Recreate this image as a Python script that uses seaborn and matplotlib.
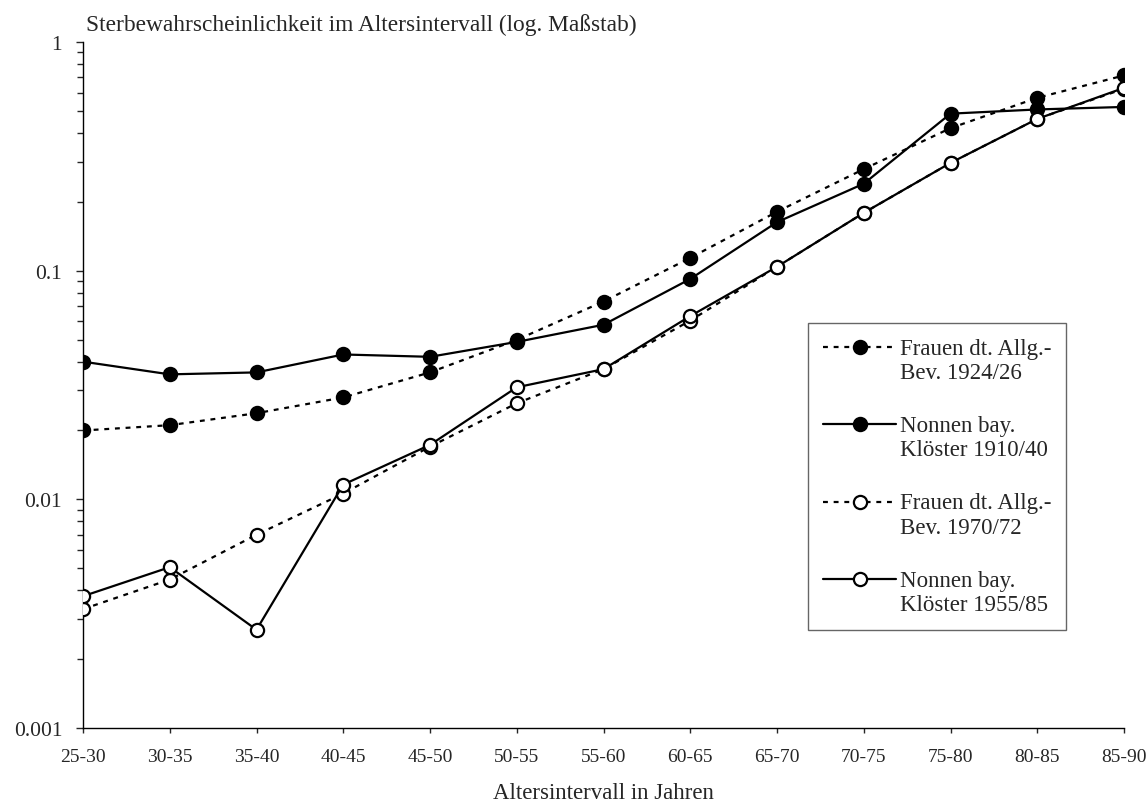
import numpy as np
import pandas as pd
import matplotlib
matplotlib.use("Agg")
import matplotlib.pyplot as plt
import seaborn as sns
from matplotlib.ticker import FixedLocator, LogLocator, NullFormatter, FixedFormatter
from matplotlib.legend_handler import HandlerLine2D

age_groups = ["25-30", "30-35", "35-40", "40-45", "45-50", "50-55", "55-60",
              "60-65", "65-70", "70-75", "75-80", "80-85", "85-90"]

frauen_1924 = [0.020, 0.0211, 0.0238, 0.0279, 0.0359, 0.0498, 0.0733,
               0.1137, 0.181, 0.278, 0.420, 0.570, 0.714]
nonnen_1910 = [0.040, 0.0352, 0.0359, 0.043, 0.042, 0.0488, 0.058,
               0.092, 0.163, 0.240, 0.486, 0.507, 0.520]
frauen_1970 = [0.00331, 0.00446, 0.0070, 0.0106, 0.0170, 0.0263, 0.0371,
               0.0605, 0.104, 0.179, 0.296, 0.461, 0.625]
nonnen_1955 = [0.00377, 0.00505, 0.00269, 0.0116, 0.0173, 0.0309, 0.0371,
               0.0633, 0.104, 0.179, 0.296, 0.461, 0.630]

series_labels = ["Frauen dt. Allg.-\nBev. 1924/26",
                 "Nonnen bay.\nKlöster 1910/40",
                 "Frauen dt. Allg.-\nBev. 1970/72",
                 "Nonnen bay.\nKlöster 1955/85"]

y_ticks = [0.001, 0.01, 0.1, 1]
y_tick_labels = ["0.001", "0.01", "0.1", "1"]

sns.set_theme(style="white")
plt.rcParams["font.family"] = ["Liberation Serif", "DejaVu Serif"]


class FirstLineHandler(HandlerLine2D):
    """Aligns the legend handle with the first line of a two-line label."""
    def create_artists(self, legend, orig_handle, xdescent, ydescent,
                       width, height, fontsize, trans):
        artists = super().create_artists(legend, orig_handle, xdescent, ydescent,
                                         width, height, fontsize, trans)
        for a in artists:
            a.set_ydata(np.asarray(a.get_ydata(), dtype=float) + 0.58 * fontsize)
        return artists


fig = plt.figure(figsize=(11.48, 8.03), dpi=100)
ax = fig.add_axes([83 / 1148, 1 - 729 / 803, (1124 - 83) / 1148, (729 - 43) / 803])

pos = np.arange(len(age_groups))
series = [frauen_1924, nonnen_1910, frauen_1970, nonnen_1955]
styles = [
    dict(dashes=(2.2, 2.6), mfc="black", z=3),
    dict(dashes=None, mfc="black", z=4),
    dict(dashes=(2.2, 2.6), mfc="white", z=5),
    dict(dashes=None, mfc="white", z=6),
]

for vals, lab, st in zip(series, series_labels, styles):
    df = pd.DataFrame({"x": pos, "y": vals})
    sns.lineplot(data=df, x="x", y="y", ax=ax, color="black", linewidth=1.6,
                 marker="o", markersize=9.5, markerfacecolor=st["mfc"],
                 markeredgecolor="black", markeredgewidth=1.6,
                 label=lab, zorder=st["z"])
    l = ax.lines[-1]
    if st["dashes"] is not None:
        l.set_dashes(st["dashes"])

ax.set_yscale("log")
ax.set_ylim(0.001, 1)
ax.set_xlim(0, len(age_groups) - 1)
ax.set_xticks(pos)
ax.set_xticklabels(age_groups, fontsize=14)
ax.yaxis.set_major_locator(FixedLocator(y_ticks))
ax.yaxis.set_major_formatter(FixedFormatter(y_tick_labels))
ax.yaxis.set_minor_locator(LogLocator(base=10, subs=np.arange(2, 10)))
ax.yaxis.set_minor_formatter(NullFormatter())
ax.tick_params(axis="y", which="major", direction="out", length=5, width=1,
               labelsize=15.5, left=True, pad=10)
ax.tick_params(axis="y", which="minor", direction="out", length=4, width=1, left=True)
ax.tick_params(axis="x", which="major", direction="out", length=3.5, width=1,
               bottom=True, pad=11)

for s in ["top", "right"]:
    ax.spines[s].set_visible(False)
for s in ["left", "bottom"]:
    ax.spines[s].set_color("black")
    ax.spines[s].set_linewidth(1.0)

ax.set_xlabel("Altersintervall in Jahren", fontsize=16.5, labelpad=12)
ax.set_ylabel("")
fig.text(86 / 1148, 1 - 25 / 803, "Sterbewahrscheinlichkeit im Altersintervall (log. Maßstab)",
         fontsize=16.8, ha="left", va="center")

handles, labels = ax.get_legend_handles_labels()
leg = ax.legend(handles, labels, loc="upper left", bbox_to_anchor=(0.6964, 0.5904),
                frameon=True, fontsize=16.5, handlelength=3.2, handletextpad=0.15,
                labelspacing=1.4, borderpad=0.65, fancybox=False, borderaxespad=0,
                handler_map={h: FirstLineHandler() for h in handles})
leg.get_frame().set_edgecolor("#404040")
leg.get_frame().set_linewidth(1.0)

fig.savefig("out.png", dpi=100)
